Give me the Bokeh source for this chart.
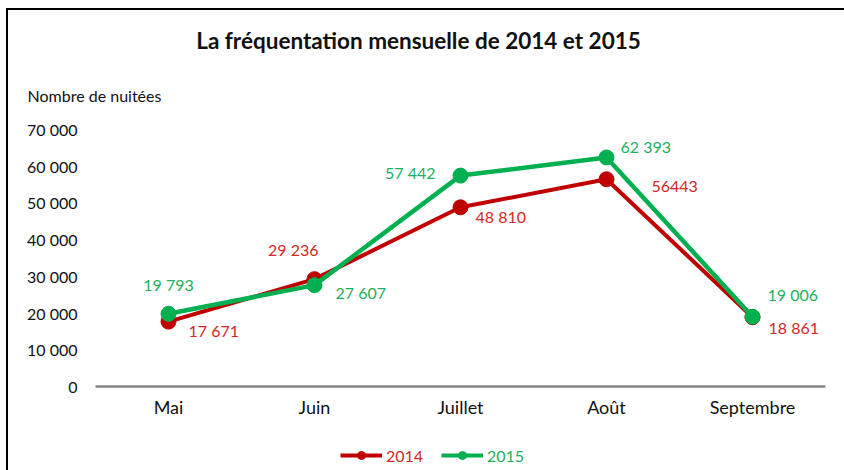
from bokeh.plotting import figure
from bokeh.models import (FactorRange, Range1d, FixedTicker, Legend, LegendItem,
                          ColumnDataSource)
from bokeh.layouts import column
from bokeh.core.properties import value
from bokeh.embed import file_html
from bokeh.resources import INLINE

# ---- data ----
months = ["Mai", "Juin", "Juillet", "Août", "Septembre"]
vals_2014 = [17671, 29236, 48810, 56443, 18861]
vals_2015 = [19793, 27607, 57442, 62393, 19006]
labels_2014 = ["17 671", "29 236", "48 810", "56443", "18 861"]
labels_2015 = ["19 793", "27 607", "57 442", "62 393", "19 006"]
y_ticks = [0, 10000, 20000, 30000, 40000, 50000, 60000, 70000]
y_tick_labels = ["0", "10 000", "20 000", "30 000", "40 000", "50 000", "60 000", "70 000"]
series_names = ["2014", "2015"]
title_text = "La fréquentation mensuelle de 2014 et 2015"
y_title = "Nombre de nuitées"

# ---- styles ----
RED = "#C00000"
GREEN = "#00B050"
RED_TXT = "#D02828"
GREEN_TXT = "#1DB060"
FONT = "Lato"
W = 836
BL, BR = 87, 19          # left / right borders of the chart and legend strip
FX0, FX1 = 95, 825       # page x of frame edges

# label placement (screen offsets, px)
off_2014 = dict(x=[20, 4, 15, 45, 16], y=[9, -30, 9, 7, 10],
                align=["left", "right", "left", "left", "left"])
off_2015 = dict(x=[0, 21, -25, 14, 15], y=[-29, 7, -3, -11, -22],
                align=["center", "left", "right", "left", "left"])


def strip(height, y0, x0, x1, bl, br):
    f = figure(width=W, height=height, output_backend="svg", toolbar_location=None,
               x_range=Range1d(x0, x1), y_range=Range1d(y0 + height, y0),
               min_border_left=bl, min_border_right=br, min_border_top=0,
               min_border_bottom=0, x_axis_type=None, y_axis_type=None)
    f.outline_line_color = None
    f.xgrid.grid_line_color = None
    f.ygrid.grid_line_color = None
    return f


# ---- header strip: title and y caption (full-width frame) ----
top = strip(109, 10, 8, 8 + W, 0, 0)
top.text(x=[418], y=[40], text=[title_text], text_align="center", text_baseline="middle",
         text_font=value(FONT), text_font_size="22.5px", text_font_style="bold",
         text_color="#111111")
top.text(x=[27], y=[95], text=[y_title], text_align="left", text_baseline="middle",
         text_font=value(FONT), text_font_size="16px", text_color="#111111")

# ---- main chart ----
p = figure(width=W, height=311, output_backend="svg", toolbar_location=None,
           x_range=FactorRange(factors=months, range_padding=0),
           y_range=Range1d(0, 70000),
           min_border_left=BL, min_border_top=10, min_border_right=BR,
           min_border_bottom=44)
p.outline_line_color = None
p.xgrid.grid_line_color = None
p.ygrid.grid_line_color = None

p.yaxis.ticker = FixedTicker(ticks=y_ticks)
p.yaxis.major_label_overrides = {t: l for t, l in zip(y_ticks, y_tick_labels)}
p.yaxis.axis_line_color = None
p.yaxis.major_tick_line_color = None
p.yaxis.minor_tick_line_color = None
p.yaxis.major_label_standoff = 12
p.yaxis.major_label_text_font = FONT
p.yaxis.major_label_text_font_size = "16px"
p.yaxis.major_label_text_color = "#111111"

p.xaxis.axis_line_color = "#868686"
p.xaxis.axis_line_width = 2.5
p.xaxis.major_tick_line_color = None
p.xaxis.minor_tick_line_color = None
p.xaxis.major_label_standoff = 3
p.xaxis.major_label_text_font = FONT
p.xaxis.major_label_text_font_size = "18px"
p.xaxis.major_label_text_color = "#111111"

src14 = ColumnDataSource(dict(x=months, y=vals_2014, t=labels_2014,
                              xo=off_2014["x"], yo=off_2014["y"], al=off_2014["align"]))
src15 = ColumnDataSource(dict(x=months, y=vals_2015, t=labels_2015,
                              xo=off_2015["x"], yo=off_2015["y"], al=off_2015["align"]))

p.line("x", "y", source=src14, line_color=RED, line_width=4)
p.scatter("x", "y", source=src14, size=15, fill_color=RED, line_color=RED)
p.line("x", "y", source=src15, line_color=GREEN, line_width=4.5)
p.scatter("x", "y", source=src15, size=15, fill_color=GREEN, line_color=GREEN)

p.text("x", "y", text="t", source=src14, x_offset="xo", y_offset="yo", text_align="al",
       text_baseline="middle", text_color=RED_TXT, text_font=value(FONT),
       text_font_size="16px")
p.text("x", "y", text="t", source=src15, x_offset="xo", y_offset="yo", text_align="al",
       text_baseline="middle", text_color=GREEN_TXT, text_font=value(FONT),
       text_font_size="16px")

# ---- legend strip ----
leg = strip(40, 430, FX0, FX1, BL, BR)
nan = float("nan")
for name, col, txt, loc in [(series_names[0], RED, RED_TXT, (245, 5)),
                            (series_names[1], GREEN, GREEN_TXT, (346, 5))]:
    lr = leg.line(x=[nan, nan], y=[nan, nan], line_color=col, line_width=4)
    sr = leg.scatter(x=[nan], y=[nan], size=8, fill_color=col, line_color=col)
    lg = Legend(items=[LegendItem(label=name, renderers=[lr, sr])], location=loc,
                orientation="horizontal", padding=0, margin=0, spacing=0,
                glyph_width=42, glyph_height=20, label_standoff=4,
                label_text_color=txt, label_text_font=FONT,
                label_text_font_size="16px", border_line_color=None,
                background_fill_alpha=0)
    leg.add_layout(lg, "center")

layout = column(top, column(p, leg, spacing=0), spacing=0)
layout.styles = {"margin-top": "8px", "margin-left": "6px",
                 "border-top": "2px solid black", "border-left": "2px solid black"}

open("out.html", "w").write(file_html(layout, INLINE))
